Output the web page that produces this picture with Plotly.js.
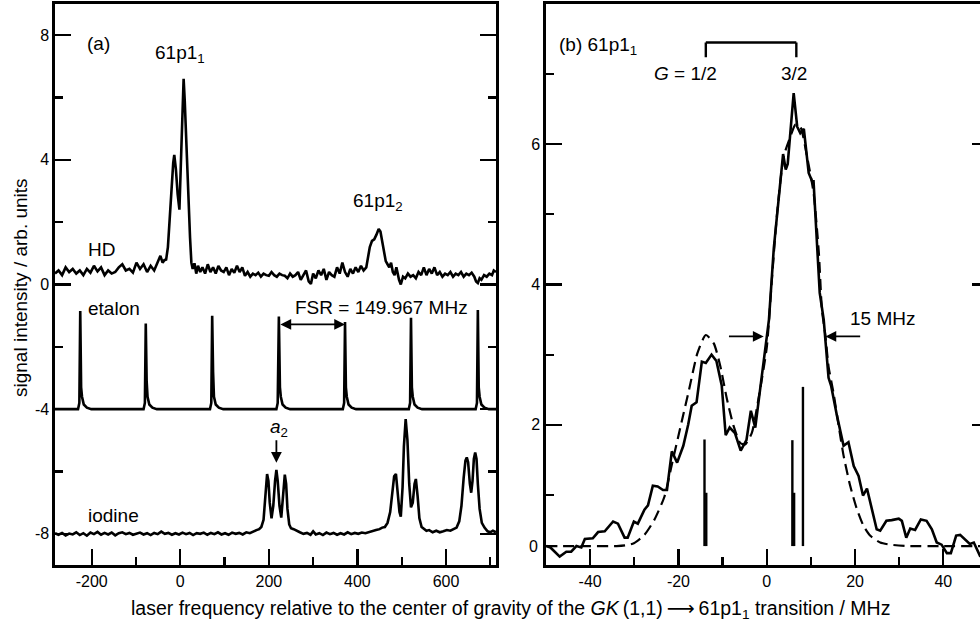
<!DOCTYPE html>
<html>
<head>
<meta charset="utf-8">
<script src="https://cdn.plot.ly/plotly-3.0.1.min.js"></script>
<style>
html,body{margin:0;padding:0;overflow:hidden;background:#fff;}
#chart{width:988px;height:624px;}
</style>
</head>
<body>
<div id="chart"></div>
<script>
// ---------- Panel (a): HD signal ----------
const hdX = [-283,-275,-267,-259,-251,-243,-235,-227,-219,-211,-203,-195,-187,-179,-171,-163,-155,-147,-139,-131,-123,-115,-107,-99,-91,-83,-75,-67,-59,-51,-45,-40,-36,-32,-28,-24,-20,-16,-13.6,-10,-6,-2,2,5,7.5,10,14,18,22,25,28,32,36,40,45,50,56,62,68,74,80,86,92,98,104,110,116,122,128,134,140,146,152,158,164,170,176,182,188,194,200,206,212,218,224,230,236,242,248,254,260,266,272,278,284,290,295,300,306,312,318,324,330,336,342,348,354,360,366,372,378,384,390,396,402,408,414,420,424,428,433,438,443,448,452,456,460,464,468,472,476,480,484,488,494,498,503,508,514,520,526,532,538,544,550,556,562,568,574,580,586,592,598,604,610,616,622,628,634,640,646,652,658,664,668,672,676,680,686,692,698,704,708,713];
const hdY = [0.35,0.45,0.30,0.55,0.40,0.50,0.35,0.45,0.30,0.50,0.38,0.60,0.42,0.55,0.30,0.45,0.35,0.40,0.55,0.65,0.45,0.50,0.38,0.70,0.50,0.65,0.40,0.60,0.45,0.75,0.92,0.70,0.78,0.80,1.20,2.10,3.10,3.90,4.16,3.70,2.90,2.40,4.20,5.70,6.60,5.90,4.30,2.90,1.50,0.70,0.50,0.68,0.35,0.60,0.40,0.55,0.35,0.65,0.40,0.55,0.35,0.60,0.45,0.40,0.55,0.30,0.50,0.38,0.60,0.40,0.55,0.28,0.40,0.25,0.35,0.30,0.38,0.25,0.35,0.30,0.28,0.40,0.30,0.25,0.35,0.30,0.28,0.20,0.35,0.25,0.30,0.40,0.15,0.30,0.45,0.10,0.02,0.35,0.20,0.45,0.30,0.50,0.15,0.40,0.30,0.25,0.55,0.35,0.70,0.40,0.25,0.50,0.35,0.55,0.40,0.60,0.45,0.55,0.90,1.20,1.40,1.45,1.60,1.78,1.70,1.35,0.95,0.75,0.65,0.55,0.70,0.40,0.30,0.55,0.15,0.00,0.25,0.20,0.35,0.25,0.30,0.20,0.40,0.30,0.55,0.30,0.50,0.35,0.55,0.30,0.40,0.25,0.35,0.30,0.40,0.25,0.35,0.30,0.40,0.25,0.35,0.30,0.38,0.25,0.10,0.05,0.20,0.15,0.30,0.25,0.35,0.30,0.45,0.40];

// ---------- Panel (a): etalon transmission ----------
const etalonX = [-283,-240,-231,-228,-226,-224,-222,-218,-211,-201,-160,-120,-83,-80,-78,-76,-74,-70,-63,-53,-10,30,67,70,72,74,76,80,87,97,140,180,217,220,222.6,225,227,231,238,248,290,330,367,370,372,374,376,380,387,397,440,480,516,519,521,523,525,529,536,546,590,630,667,670,672,674,676,680,687,697,713];
const etalonY = [-4.00,-4.00,-4.00,-3.80,-0.85,-3.30,-3.60,-3.85,-3.95,-4.00,-4.00,-4.00,-4.00,-3.80,-1.25,-3.10,-3.60,-3.85,-3.95,-4.00,-4.00,-4.00,-4.00,-3.80,-1.00,-2.80,-3.60,-3.85,-3.95,-4.00,-4.00,-4.00,-4.00,-3.80,-1.03,-3.30,-3.60,-3.85,-3.95,-4.00,-4.00,-4.00,-4.00,-3.80,-1.20,-3.30,-3.60,-3.85,-3.95,-4.00,-4.00,-4.00,-4.00,-3.80,-1.07,-3.30,-3.60,-3.85,-3.95,-4.00,-4.00,-4.00,-4.00,-3.80,-0.82,-3.30,-3.60,-3.85,-3.95,-4.00,-4.00];

// ---------- Panel (a): iodine reference ----------
const iodineX = [-283,-275,-267,-259,-251,-243,-235,-227,-219,-211,-203,-195,-187,-179,-171,-163,-155,-147,-139,-131,-123,-115,-107,-99,-91,-83,-75,-67,-59,-51,-43,-35,-27,-19,-11,-3,5,13,21,29,37,45,53,61,69,77,85,93,101,109,117,125,133,141,149,157,165,172,178,183,188,191,194,196,199,202,206,210,214,217,220,224,228,232,236,239,242,246,250,256,262,270,278,286,294,300,306,314,322,330,338,346,354,362,370,378,386,394,402,410,418,426,434,442,450,456,462,468,474,479,483,487,491,495,498,502,505,509,513,517,521,525,529,532,536,540,545,550,556,562,570,578,586,594,602,610,618,624,630,635,640,644,647,650,654,657,660,663,666,669,672,676,681,687,694,700,706,713];
const iodineY = [-7.98,-8.03,-7.97,-8.05,-7.99,-8.02,-7.95,-8.04,-7.98,-8.06,-7.96,-8.01,-7.94,-8.03,-7.97,-8.02,-7.96,-8.05,-7.98,-7.95,-8.01,-7.97,-8.03,-7.99,-7.96,-8.02,-7.98,-8.04,-7.97,-8.01,-7.93,-8.00,-7.97,-8.03,-7.98,-8.02,-7.96,-8.01,-7.97,-8.04,-7.98,-8.00,-7.96,-8.03,-7.97,-8.01,-7.95,-8.02,-7.98,-8.03,-7.96,-8.00,-7.97,-8.02,-7.95,-7.98,-7.92,-7.88,-7.85,-7.78,-7.55,-7.00,-6.40,-6.08,-6.30,-7.00,-7.50,-7.10,-6.30,-5.95,-6.30,-7.10,-7.48,-6.80,-6.10,-6.40,-7.20,-7.70,-7.82,-7.85,-7.90,-7.95,-8.00,-7.97,-8.03,-7.92,-8.02,-7.98,-8.04,-7.96,-8.01,-7.97,-8.03,-7.98,-8.02,-7.95,-8.01,-7.97,-8.00,-7.96,-7.98,-7.94,-7.92,-7.88,-7.85,-7.80,-7.78,-7.65,-7.30,-6.60,-6.15,-6.08,-6.60,-7.30,-7.45,-6.50,-5.20,-4.32,-5.00,-6.40,-7.15,-7.00,-6.40,-6.24,-6.80,-7.50,-7.78,-7.85,-7.90,-7.88,-7.95,-7.90,-7.95,-7.92,-7.88,-7.90,-7.85,-7.80,-7.60,-7.10,-6.20,-5.65,-5.55,-5.70,-6.40,-6.68,-6.30,-5.60,-5.39,-5.60,-6.40,-7.20,-7.65,-7.80,-7.92,-7.95,-7.90,-7.95];

// ---------- Panel (b): 61p1_1 measured spectrum ----------
const measX = [-49.9,-49,-46.9,-45.4,-44.3,-43.1,-42,-41.2,-39.4,-38.2,-36.7,-34.8,-33.7,-32.2,-31.5,-30.1,-29.2,-27.7,-26.9,-25.8,-24.7,-23.5,-22.6,-21.5,-20.3,-18.9,-17.8,-17.0,-15.9,-14.7,-13.8,-12.5,-11.4,-10.2,-9.3,-8.4,-7.2,-5.9,-4.6,-3.6,-2.6,-1.6,0,0.5,1.6,3.7,4.3,4.75,6.1,6.9,7.6,8.4,9.5,10.3,10.6,12.0,12.9,14.0,14.6,15.9,17.4,18.5,19.7,20.8,21.8,22.7,23.8,24.9,25.7,27.1,28.3,29.9,30.6,31.6,32.5,33.6,34.9,36.2,37.4,38.5,39.6,40.8,41.7,42.9,43.8,44.9,46.0,46.9,48.3,50];
const measY = [0.27,0.25,0.12,0.19,0.19,0.27,0.25,0.37,0.38,0.47,0.48,0.62,0.59,0.39,0.39,0.62,0.59,0.79,0.85,1.13,1.12,1.07,1.07,1.62,1.46,1.70,2.00,2.27,2.32,2.90,2.88,3.00,2.91,2.56,1.85,1.96,1.88,1.63,1.78,2.20,1.96,2.43,3.25,3.50,4.52,5.86,5.64,5.72,6.73,6.25,6.16,6.22,5.59,5.47,5.47,3.88,3.50,2.67,2.55,2.13,1.70,1.75,1.41,1.27,0.99,1.09,0.82,0.51,0.49,0.63,0.64,0.66,0.63,0.39,0.52,0.50,0.65,0.63,0.51,0.32,0.29,0.17,0.17,0.42,0.43,0.37,0.30,0.32,0.13,0.05];

// ---------- Panel (b): simulated (fit) profile ----------
const fitX = [-50,-40,-34,-32,-30.1,-27.7,-25.5,-23.2,-21.4,-19.5,-17.6,-15.7,-13.8,-12.0,-10.5,-9.0,-7.5,-6.0,-4.9,-3.4,-1.9,0,1.1,2.35,3.85,5.36,6.5,7.6,9.1,10.6,11.8,12.5,13.3,14.0,15.1,16.3,17.4,18.9,20.4,21.9,23.4,25.7,28.0,32,40,50];
const fitY = [0.27,0.27,0.27,0.28,0.31,0.43,0.64,0.97,1.46,1.98,2.50,3.02,3.28,3.16,2.83,2.36,1.98,1.74,1.72,1.88,2.36,3.10,4.02,5.02,5.83,6.11,6.28,6.25,5.83,5.31,4.45,3.64,3.26,2.83,2.46,1.98,1.56,1.13,0.80,0.56,0.42,0.32,0.29,0.27,0.27,0.27];

// ---------- Panel (b): hyperfine stick spectrum ----------
const stickPos = [-14.1,-13.7,5.8,6.2,8.2];
const stickTop = [1.79,1.03,1.78,1.03,2.54];
const stickBase = 0.27;

// tick values / labels
const aXTicks = [-200,0,200,400,600];
const aXText = ["-200","0","200","400","600"];
const aYTicks = [-8,-4,0,4,8];
const aYText = ["-8","-4","0","4","8"];
const bXTicks = [-40,-20,0,20,40];
const bXText = ["-40","-20","0","20","40"];
const bYTicks = [0,2,4,6,8];
const bYText = ["","2","4","6","8"];

const sx = [], sy = [];
stickPos.forEach((p,i)=>{ sx.push(p,p,null); sy.push(stickBase,stickTop[i],null); });

const FONT = "Liberation Sans, Arial, Helvetica, sans-serif";
const LW = 2.6;
const lineStyle = {color:'#000', width:LW};
const TF = 19;

const traces = [
  {x:hdX, y:hdY, xaxis:'x', yaxis:'y', mode:'lines', line:lineStyle, hoverinfo:'skip'},
  {x:etalonX, y:etalonY, xaxis:'x', yaxis:'y', mode:'lines', line:lineStyle, hoverinfo:'skip'},
  {x:iodineX, y:iodineY, xaxis:'x', yaxis:'y', mode:'lines', line:lineStyle, hoverinfo:'skip'},
  {x:fitX, y:fitY, xaxis:'x2', yaxis:'y2', mode:'lines', line:{color:'#000', width:2.2, dash:'11px,6px', shape:'spline', smoothing:0.6}, hoverinfo:'skip'},
  {x:measX, y:measY, xaxis:'x2', yaxis:'y2', mode:'lines', line:lineStyle, hoverinfo:'skip'},
  {x:sx, y:sy, xaxis:'x2', yaxis:'y2', mode:'lines', line:{color:'#000', width:2.4}, hoverinfo:'skip'}
];

const W = 988, H = 624;
const axBase = {
  showgrid:false, zeroline:false, showline:true, linecolor:'#000', linewidth:LW,
  ticks:'inside', ticklen:16, tickwidth:2.2, tickcolor:'#000',
  tickfont:{family:FONT, size:16, color:'#000'}, automargin:false, fixedrange:true
};
const domA = [55/W, 496/W], domB = [546/W, 987.5/W], domY = [(H-565)/H, (H-4)/H];

const layout = {
  width:W, height:H, margin:{l:0,r:0,t:0,b:0},
  paper_bgcolor:'#fff', plot_bgcolor:'#fff', showlegend:false,
  font:{family:FONT, size:16, color:'#000'},
  xaxis: Object.assign({}, axBase, {domain:domA, anchor:'y', range:[-283,713], tickvals:aXTicks, ticktext:aXText, mirror:true,
    minor:{dtick:100, tick0:0, ticklen:8, tickwidth:2.2, ticks:'inside', tickcolor:'#000'}}),
  xaxis3: Object.assign({}, axBase, {domain:domA, anchor:'y', overlaying:'x', side:'top', range:[-283,713], dtick:100, tick0:0, showticklabels:false, showline:false}),
  yaxis: Object.assign({}, axBase, {domain:domY, anchor:'x', range:[-9,9], tickvals:aYTicks, ticktext:aYText, mirror:'allticks',
    minor:{dtick:2, tick0:0, ticklen:8, tickwidth:2.2, ticks:'inside', tickcolor:'#000'}}),
  xaxis2: Object.assign({}, axBase, {domain:domB, anchor:'y2', range:[-50,50], tickvals:bXTicks, ticktext:bXText, mirror:true,
    minor:{dtick:10, tick0:0, ticklen:8, tickwidth:2.2, ticks:'inside', tickcolor:'#000'}}),
  xaxis4: Object.assign({}, axBase, {domain:domB, anchor:'y2', overlaying:'x2', side:'top', range:[-50,50], dtick:10, tick0:0, showticklabels:false, showline:false}),
  yaxis2: Object.assign({}, axBase, {domain:domY, anchor:'x2', range:[0,8], tickvals:bYTicks, ticktext:bYText, mirror:'allticks',
    minor:{dtick:1, tick0:0, ticklen:8, tickwidth:2.2, ticks:'inside', tickcolor:'#000'}}),
  shapes:[
    {type:'line', xref:'x2', yref:'y2', x0:-13.8, x1:-13.8, y0:7.24, y1:7.45, line:{color:'#000', width:2.4}},
    {type:'line', xref:'x2', yref:'y2', x0:-13.8, x1:6.7, y0:7.45, y1:7.45, line:{color:'#000', width:2.4}},
    {type:'line', xref:'x2', yref:'y2', x0:6.7, x1:6.7, y0:7.24, y1:7.45, line:{color:'#000', width:2.4}}
  ],
  annotations:[
    {xref:'x', yref:'y', x:-215, y:7.74, text:'(a)', showarrow:false, xanchor:'left', font:{size:TF}},
    {xref:'x', yref:'y', x:0, y:7.40, text:'61p1<sub>1</sub>', showarrow:false, font:{size:TF}},
    {xref:'x', yref:'y', x:446, y:2.66, text:'61p1<sub>2</sub>', showarrow:false, font:{size:TF}},
    {xref:'x', yref:'y', x:-212, y:1.12, text:'HD', showarrow:false, xanchor:'left', font:{size:TF}},
    {xref:'x', yref:'y', x:-212, y:-0.77, text:'etalon', showarrow:false, xanchor:'left', font:{size:TF}},
    {xref:'x', yref:'y', x:455, y:-0.74, text:'FSR = 149.967 MHz', showarrow:false, font:{size:TF}},
    {xref:'x', yref:'y', x:-212, y:-7.42, text:'iodine', showarrow:false, xanchor:'left', font:{size:TF}},
    {xref:'x', yref:'y', x:222, y:-4.62, text:'<i>a</i><sub>2</sub>', showarrow:false, font:{size:TF}},
    {xref:'x', yref:'y', axref:'x', ayref:'y', x:217, y:-5.72, ax:217, ay:-4.95, text:'', showarrow:true, arrowhead:2, arrowsize:1.2, arrowwidth:1.8, arrowcolor:'#000'},
    {xref:'x', yref:'y', axref:'x', ayref:'y', x:372, y:-1.28, ax:222.6, ay:-1.28, text:'', showarrow:true, arrowside:'end+start', arrowhead:2, startarrowhead:2, arrowsize:1.2, startarrowsize:1.2, arrowwidth:1.8, arrowcolor:'#000'},
    {xref:'x2', yref:'y2', x:-47.6, y:7.40, text:'(b) 61p1<sub>1</sub>', showarrow:false, xanchor:'left', font:{size:TF}},
    {xref:'x2', yref:'y2', x:-18.4, y:7.01, text:'<i>G</i> = 1/2', showarrow:false, font:{size:TF}},
    {xref:'x2', yref:'y2', x:6.1, y:7.01, text:'3/2', showarrow:false, font:{size:TF}},
    {xref:'x2', yref:'y2', x:18.3, y:3.52, text:'15 MHz', showarrow:false, xanchor:'left', font:{size:TF}},
    {xref:'x2', yref:'y2', axref:'x2', ayref:'y2', x:-0.7, y:3.26, ax:-8.9, ay:3.26, text:'', showarrow:true, arrowhead:2, arrowsize:1.2, arrowwidth:1.8, arrowcolor:'#000'},
    {xref:'x2', yref:'y2', axref:'x2', ayref:'y2', x:13.3, y:3.26, ax:21.5, ay:3.26, text:'', showarrow:true, arrowhead:2, arrowsize:1.2, arrowwidth:1.8, arrowcolor:'#000'},
    {xref:'paper', yref:'y2', x:540/W, y:stickBase, text:'0', showarrow:false, xanchor:'right', font:{size:16}},
    {xref:'paper', yref:'paper', x:20/W, y:(H-288)/H, text:'signal intensity / arb. units', textangle:-90, showarrow:false, xanchor:'center', yanchor:'middle', font:{size:TF}},
    {xref:'paper', yref:'paper', x:511/W, y:(H-609)/H, text:'laser frequency relative to the center of gravity of the <i>GK</i>\u2009(1,1)\u2009<span style="font-family:DejaVu Sans">\u27F6</span>\u200961p1<sub>1</sub> transition / MHz', showarrow:false, xanchor:'center', yanchor:'middle', font:{size:19.5}}
  ]
};

Plotly.newPlot('chart', traces, layout, {staticPlot:true, displayModeBar:false});
</script>
</body>
</html>
